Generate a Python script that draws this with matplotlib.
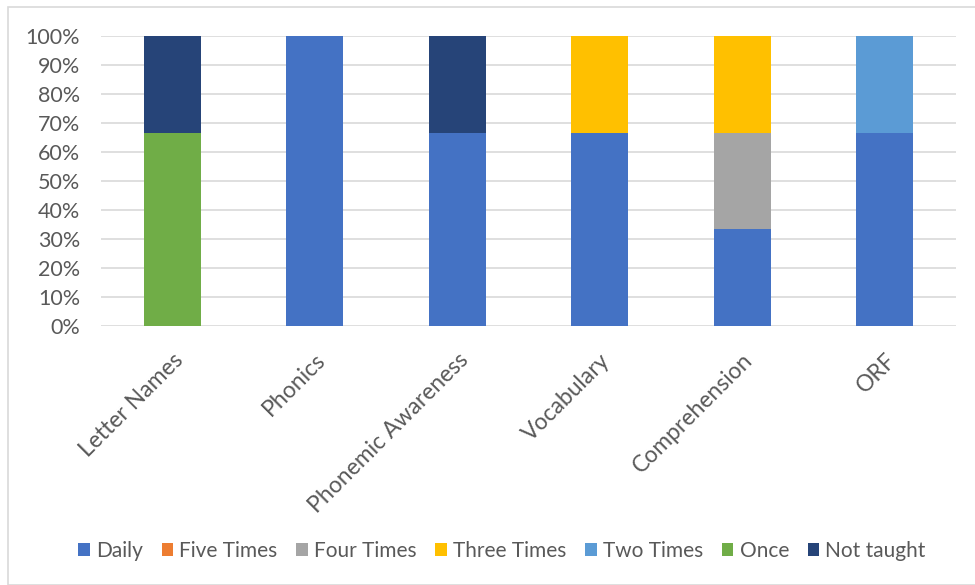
import matplotlib
matplotlib.use("Agg")
import matplotlib.pyplot as plt
from matplotlib.patches import Rectangle
import numpy as np

plt.rcParams['font.family'] = ['Lato', 'DejaVu Sans']

categories = ["Letter Names", "Phonics", "Phonemic Awareness", "Vocabulary", "Comprehension", "ORF"]
series_names = ["Daily", "Five Times", "Four Times", "Three Times", "Two Times", "Once", "Not taught"]
daily       = [0, 100, 66.7, 66.7, 33.3, 66.7]
five_times  = [0, 0, 0, 0, 0, 0]
four_times  = [0, 0, 0, 0, 33.3, 0]
three_times = [0, 0, 0, 33.3, 33.3, 0]
two_times   = [0, 0, 0, 0, 0, 33.3]
once        = [66.7, 0, 0, 0, 0, 0]
not_taught  = [33.3, 0, 33.3, 0, 0, 0]
colors = ["#4472C4", "#ED7D31", "#A5A5A5", "#FFC000", "#5B9BD5", "#70AD47", "#264478"]

series = [daily, five_times, four_times, three_times, two_times, once, not_taught]

fig = plt.figure(figsize=(9.75, 5.85), dpi=100)
fig.patches.append(Rectangle((8/975, 0), 1.0, 1 - 7/585, transform=fig.transFigure,
                             fill=False, edgecolor="#D9D9D9", linewidth=1.2))
ax = fig.add_axes([101/975, 1 - 326/585, 855/975, 290/585])

x = np.arange(len(categories))
bottom = np.zeros(len(categories))
for name, vals, c in zip(series_names, series, colors):
    v = np.array(vals, dtype=float)
    ax.bar(x, v, bottom=bottom, width=0.4, color=c, label=name, zorder=3)
    bottom += v

ax.set_xlim(-0.5, len(categories) - 0.5)
ax.set_ylim(0, 100)
ax.set_yticks(np.arange(0, 101, 10))
ax.set_yticklabels([f"{v}%" for v in range(0, 101, 10)], fontsize=15.5, color="#595959")
ax.yaxis.grid(True, color="#D9D9D9", linewidth=1.2, zorder=0)
ax.set_axisbelow(True)
for s in ax.spines.values():
    s.set_visible(False)
ax.tick_params(axis='both', length=0)
ax.tick_params(axis='y', pad=15)
ax.set_xticks(x)
ax.set_xticklabels(categories, fontsize=16.5, color="#595959", rotation=45,
                   ha='right', rotation_mode='anchor')
ax.tick_params(axis='x', pad=17)

leg = fig.legend(loc='center', bbox_to_anchor=(502/975, 1 - 551/585), ncol=7, frameon=False,
                 fontsize=15, handlelength=0.55, handleheight=0.55, handletextpad=0.3,
                 columnspacing=0.9, labelcolor="#595959")

fig.savefig("out.png", dpi=100)
